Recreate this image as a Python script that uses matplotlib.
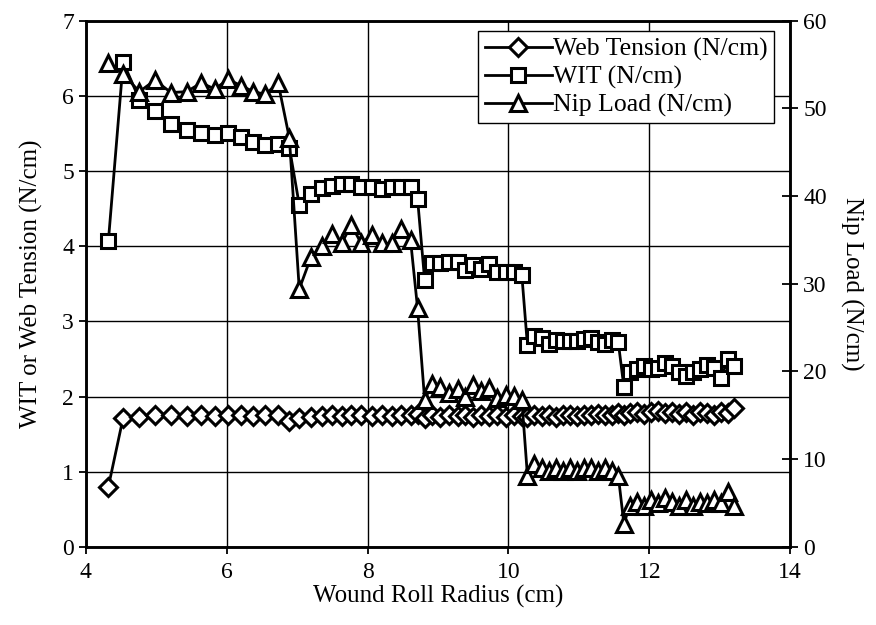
import numpy as np
import matplotlib
matplotlib.use("Agg")
import matplotlib.pyplot as plt

plt.rcParams['font.family'] = ['Liberation Serif', 'DejaVu Serif']

# wound roll radius (cm), shared by all three series
radius = [4.32, 4.53, 4.76, 4.98, 5.21, 5.43, 5.64, 5.83, 6.02, 6.20, 6.38, 6.55, 6.73, 6.89,
          7.03, 7.20, 7.35, 7.49, 7.63, 7.77, 7.91, 8.06, 8.20, 8.34, 8.47, 8.61, 8.71,
          8.81, 8.92, 9.03, 9.16, 9.28, 9.39, 9.49, 9.61, 9.72, 9.84, 9.96, 10.08, 10.19,
          10.27, 10.37, 10.47, 10.57, 10.67, 10.77, 10.87, 10.97, 11.07, 11.17, 11.27, 11.37, 11.47, 11.56,
          11.64, 11.72, 11.82, 11.92, 12.02, 12.12, 12.22, 12.32, 12.42, 12.52, 12.62, 12.72, 12.82,
          12.92, 13.02, 13.12, 13.20]

# web tension (N/cm), left axis
web_tension = [0.80, 1.72, 1.73, 1.75, 1.75, 1.74, 1.75, 1.74, 1.76, 1.75, 1.74, 1.76, 1.75, 1.68,
               1.72, 1.73, 1.74, 1.76, 1.74, 1.76, 1.75, 1.74, 1.75, 1.74, 1.75, 1.76, 1.77,
               1.72, 1.75, 1.73, 1.76, 1.74, 1.75, 1.73, 1.76, 1.74, 1.75, 1.73, 1.75, 1.74,
               1.73, 1.76, 1.74, 1.75, 1.73, 1.76, 1.75, 1.74, 1.76, 1.75, 1.77, 1.75, 1.76, 1.78,
               1.76, 1.78, 1.80, 1.77, 1.79, 1.81, 1.78, 1.80, 1.77, 1.79, 1.76, 1.80, 1.78,
               1.76, 1.80, 1.78, 1.85]

# wound-in-tension (N/cm), left axis
wit = [4.07, 6.45, 5.95, 5.80, 5.62, 5.55, 5.50, 5.48, 5.51, 5.45, 5.38, 5.35, 5.36, 5.31,
       4.55, 4.69, 4.77, 4.80, 4.83, 4.83, 4.79, 4.79, 4.76, 4.79, 4.79, 4.79, 4.63,
       3.55, 3.77, 3.78, 3.79, 3.79, 3.68, 3.75, 3.69, 3.76, 3.66, 3.66, 3.66, 3.62,
       2.68, 2.80, 2.78, 2.70, 2.75, 2.74, 2.74, 2.74, 2.76, 2.78, 2.72, 2.70, 2.75, 2.72,
       2.12, 2.32, 2.36, 2.40, 2.37, 2.38, 2.45, 2.40, 2.33, 2.27, 2.33, 2.36, 2.42,
       2.38, 2.25, 2.50, 2.40]

# nip load (N/cm), right axis
nip_load = [55.2, 53.9, 51.9, 53.2, 51.8, 51.9, 52.9, 52.2, 53.3, 52.6, 51.9, 51.6, 52.9, 46.6,
            29.4, 33.1, 34.3, 35.7, 34.6, 36.7, 34.6, 35.6, 34.6, 34.6, 36.2, 35.0, 27.2,
            16.8, 18.6, 18.2, 17.6, 18.0, 17.1, 18.4, 17.8, 18.1, 17.0, 17.3, 17.2, 16.8,
            8.1, 9.4, 9.0, 8.6, 9.0, 8.6, 9.0, 8.6, 9.0, 9.0, 8.6, 9.0, 8.6, 8.1,
            2.6, 4.7, 5.1, 4.7, 5.3, 5.0, 5.6, 5.1, 4.7, 5.3, 4.7, 5.1, 5.0,
            5.3, 5.0, 6.2, 4.7]

fig = plt.figure(figsize=(8.76, 6.25), dpi=100)
ax = fig.add_axes([0.098, 0.125, 0.804, 0.842])
ax2 = ax.twinx()

style = dict(color='black', lw=2.0, mfc='white', mec='black', mew=2.2)
l1, = ax.plot(radius, web_tension, marker='D', ms=9.5, label='Web Tension (N/cm)', **style)
l2, = ax.plot(radius, wit, marker='s', ms=10.5, label='WIT (N/cm)', **style)
l3, = ax2.plot(radius, nip_load, marker='^', ms=12, label='Nip Load (N/cm)', **style)

ax.set_xlim(4, 14)
ax.set_ylim(0, 7)
ax.set_xticks(np.arange(4, 15, 2))
ax.set_yticks(np.arange(0, 8, 1))
ax2.set_ylim(0, 60)
ax2.set_yticks(np.arange(0, 61, 10))

ax.grid(True, color='black', lw=1.0)
ax.set_axisbelow(True)

for a in (ax, ax2):
    for s in a.spines.values():
        s.set_linewidth(1.8)
ax.tick_params(labelsize=17, direction='out', length=5, width=1.3)
ax.tick_params(axis='x', pad=6)
ax2.tick_params(labelsize=17, direction='inout', length=12, width=1.3)

ax.set_xlabel('Wound Roll Radius (cm)', fontsize=18, labelpad=1)
ax.set_ylabel('WIT or Web Tension (N/cm)', fontsize=18, labelpad=14)
ax2.set_ylabel('Nip Load (N/cm)', fontsize=18, rotation=270, labelpad=26)

leg = ax2.legend(handles=[l1, l2, l3], loc='upper right', bbox_to_anchor=(0.977, 0.98),
                 fontsize=18.5, frameon=True, fancybox=False, handlelength=2.6,
                 handletextpad=0.05, borderpad=0.25, labelspacing=0.18, borderaxespad=0.0)
leg.get_frame().set_edgecolor('black')
leg.get_frame().set_linewidth(1.0)
leg.get_frame().set_alpha(1)

fig.savefig('out.png', dpi=100)
